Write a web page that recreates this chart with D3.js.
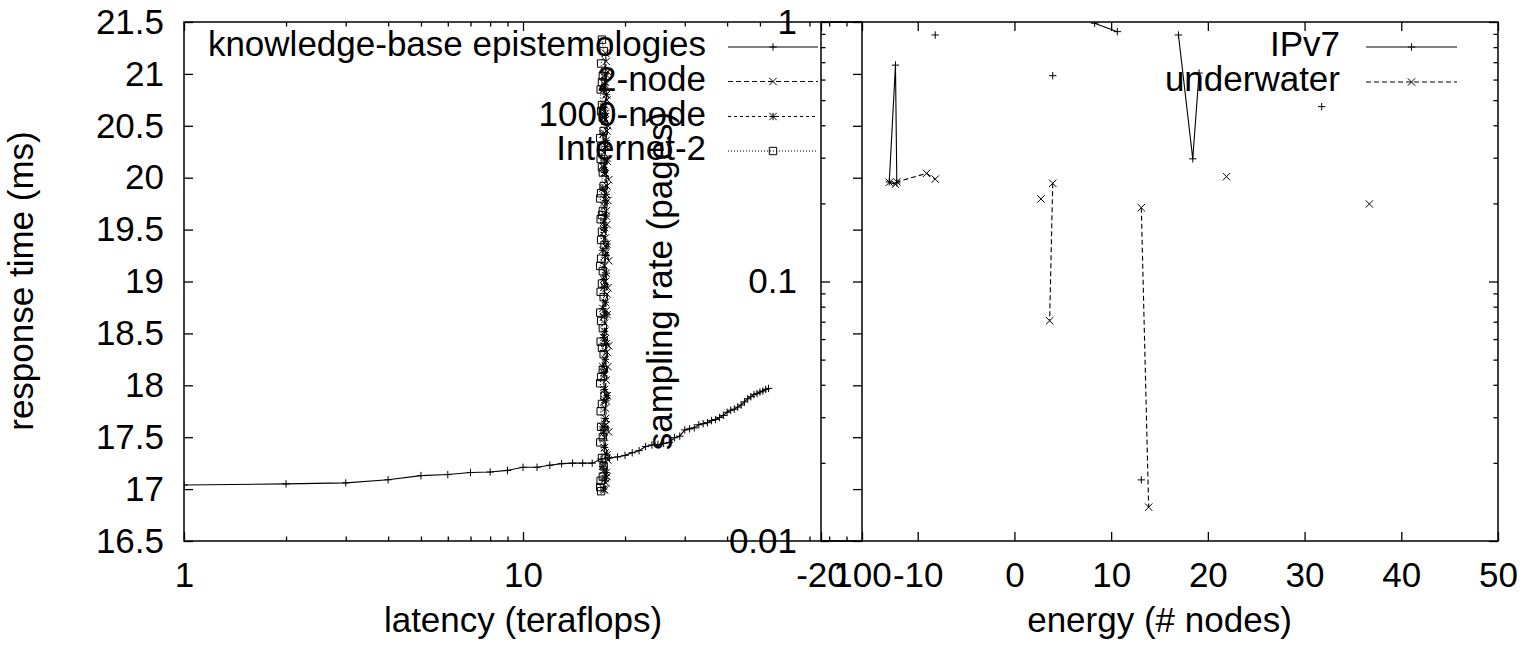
<!DOCTYPE html>
<html>
<head>
<meta charset="utf-8">
<script src="https://cdn.jsdelivr.net/npm/d3@7"></script>
<style>
  body { margin: 0; background: #fff; }
  svg { display: block; }
</style>
</head>
<body>
<div id="svg-container"></div>
<script>
////////////////////////////  Data  ////////////////////////////
// left panel : latency (teraflops, log) vs response time (ms)
const kbLatency = [1, 2, 3, 4, 5, 6, 7, 8, 9, 10, 11, 12, 13, 14, 15, 16, 17, 18, 19, 20,
  21, 22, 23, 24, 25, 26, 27, 28, 29, 30, 31, 32, 33, 34, 35, 36, 37, 38, 39, 40,
  41, 42, 43, 44, 45, 46, 47, 48, 49, 50, 51, 52, 53];
const kbResponse = [17.04, 17.05, 17.06, 17.09, 17.13, 17.14, 17.16, 17.165, 17.18, 17.21,
  17.21, 17.23, 17.245, 17.25, 17.25, 17.25, 17.29, 17.3, 17.31, 17.325,
  17.35, 17.37, 17.41, 17.425, 17.43, 17.44, 17.45, 17.495, 17.51, 17.57,
  17.58, 17.59, 17.62, 17.63, 17.64, 17.66, 17.67, 17.69, 17.71, 17.74,
  17.76, 17.77, 17.79, 17.81, 17.84, 17.87, 17.89, 17.91, 17.92, 17.935,
  17.945, 17.96, 17.97];

const node2Latency = [17.4, 17.6, 17.3, 17.7, 17.5, 17.8, 17.4, 17.6, 17.9, 17.5,
  17.7, 17.3, 17.6, 17.8, 17.4, 17.7, 17.5, 17.9, 17.4, 17.6,
  17.3, 17.7, 17.5, 17.8, 17.4, 17.6, 17.9, 17.5, 17.7, 17.3,
  17.6, 17.8, 17.4, 17.7, 17.5, 17.9, 17.4, 17.6, 17.3, 17.7,
  17.5, 17.8, 17.4, 17.6, 17.7, 17.5, 17.8, 17.4, 17.6, 17.5];
const node2Response = [16.99, 17.06, 17.18, 17.12, 17.35, 17.28, 17.5, 17.62, 17.55, 17.78,
  17.9, 17.84, 18.05, 18.18, 18.1, 18.32, 18.45, 18.38, 18.6, 18.72,
  18.66, 18.88, 19.0, 18.94, 19.15, 19.28, 19.2, 19.42, 19.55, 19.48,
  19.68, 19.78, 19.72, 19.92, 20.04, 19.98, 20.18, 20.3, 20.24, 20.45,
  20.56, 20.5, 20.7, 20.8, 20.75, 20.92, 21.02, 20.97, 21.12, 21.2];

const node1000Latency = [17.3, 17.5, 17.2, 17.6, 17.4, 17.7, 17.3, 17.5, 17.2, 17.6,
  17.4, 17.7, 17.3, 17.5, 17.2, 17.6, 17.4, 17.3, 17.7, 17.5,
  17.2, 17.4, 17.6, 17.3, 17.5, 17.7, 17.2, 17.4, 17.6, 17.3,
  17.5, 17.2, 17.6, 17.4, 17.7, 17.3, 17.5, 17.2, 17.6, 17.4,
  17.3, 17.5, 17.6, 17.4, 17.3, 17.5];
const node1000Response = [17.0, 17.1, 17.22, 17.16, 17.4, 17.33, 17.55, 17.68, 17.6, 17.85,
  17.96, 17.9, 18.12, 18.25, 18.18, 18.4, 18.52, 18.46, 18.68, 18.8,
  18.74, 18.95, 19.08, 19.02, 19.25, 19.36, 19.3, 19.52, 19.63, 19.57,
  19.78, 19.9, 19.84, 20.05, 20.16, 20.1, 20.3, 20.42, 20.36, 20.58,
  20.68, 20.62, 20.8, 20.9, 20.85, 21.0];

const internet2Latency = [17.0, 16.9, 17.2, 16.95, 17.1, 17.3, 16.9, 17.0, 17.2, 16.95,
  17.4, 17.1, 16.9, 17.2, 17.0, 17.3, 16.95, 17.1, 17.2, 16.9,
  17.0, 17.3, 17.1, 16.95, 17.2, 17.0, 16.9, 17.4, 17.1, 17.0,
  16.95, 17.2, 17.1, 16.9, 17.3, 17.0, 17.2, 16.95, 17.1, 17.0,
  17.3, 16.9, 17.2, 17.1, 17.0, 16.95, 17.2, 17.1, 17.0, 17.3, 17.1];
const internet2Response = [16.98, 17.02, 17.12, 17.08, 17.3, 17.22, 17.45, 17.6, 17.5, 17.75,
  17.9, 17.82, 18.02, 18.15, 18.08, 18.3, 18.42, 18.36, 18.55, 18.7,
  18.62, 18.85, 18.98, 18.9, 19.1, 19.22, 19.15, 19.35, 19.48, 19.4,
  19.6, 19.68, 19.64, 19.8, 19.92, 19.85, 20.05, 20.18, 20.1, 20.3,
  20.45, 20.38, 20.58, 20.7, 20.64, 20.85, 20.98, 20.92, 21.1, 21.22, 21.33];

// right panel : energy (# nodes) vs sampling rate (log). null = break in the line
const ipv7Energy = [-12.94, -12.3, -12.16, null, -8.19, null, 3.96, null, 8.29, 10.64, null,
  16.96, 18.44, 19.09, null, 31.77, null, 13.12];
const ipv7Rate = [0.242, 0.682, 0.24, null, 0.891, null, 0.621, null, 0.989, 0.918, null,
  0.891, 0.297, 0.636, null, 0.472, null, 0.0172];

const underwaterEnergy = [-12.94, -12.3, -12.16, -9.09, -8.19, null, 2.74, null, 3.96, 3.64, null,
  13.12, 13.88, null, 21.93, null, 36.7];
const underwaterRate = [0.241, 0.237, 0.242, 0.261, 0.248, null, 0.208, null, 0.239, 0.0706, null,
  0.1925, 0.0135, null, 0.2535, null, 0.199];

// ticks
const latencyTicks = [1, 10, 100];
const latencyMinor = [2, 3, 4, 5, 6, 7, 8, 9, 20, 30, 40, 50, 60, 70, 80, 90];
const responseTicks = [16.5, 17, 17.5, 18, 18.5, 19, 19.5, 20, 20.5, 21, 21.5];
const energyTicks = [-20, -10, 0, 10, 20, 30, 40, 50];
const rateTicks = [0.01, 0.1, 1];
const rateMinor = [0.02, 0.03, 0.04, 0.05, 0.06, 0.07, 0.08, 0.09,
  0.2, 0.3, 0.4, 0.5, 0.6, 0.7, 0.8, 0.9];

////////////////////////////  Init  ////////////////////////////
const width = 1523;
const height = 648;
const FONT = "'Liberation Sans', Arial, Helvetica, sans-serif";
const FS = 35;

const svg = d3.select("#svg-container").append("svg")
  .attr("width", width).attr("height", height)
  .attr("font-family", FONT);
svg.append("rect").attr("width", width).attr("height", height).attr("fill", "#fff");

// both panels share the same vertical extent
const plotTop = 22, plotBottom = 541;

// scales
const xL = d3.scaleLog().domain([1, 100]).range([184, 862]);
const yL = d3.scaleLinear().domain([16.5, 21.5]).range([plotBottom, plotTop]);
const xR = d3.scaleLinear().domain([-20, 50]).range([821, 1498]);
const yR = d3.scaleLog().domain([0.01, 1]).range([plotBottom, plotTop]);

const zip = (xs, ys) => xs.map((x, i) => ({ x: x, y: ys[i] }));

// marker shapes (gnuplot style)
const S = 3.7;
const markers = {
  plus: `M${-S},0H${S}M0,${-S}V${S}`,
  cross: `M${-S},${-S}L${S},${S}M${-S},${S}L${S},${-S}`,
  star: `M${-S},0H${S}M0,${-S}V${S}M${-S},${-S}L${S},${S}M${-S},${S}L${S},${-S}`,
  box: `M${-S},${-S}H${S}V${S}H${-S}Z`
};

const leftSeries = [
  { name: "knowledge-base epistemologies", data: zip(kbLatency, kbResponse), dash: null, mark: "plus" },
  { name: "2-node", data: zip(node2Latency, node2Response), dash: "5,3", mark: "cross" },
  { name: "1000-node", data: zip(node1000Latency, node1000Response), dash: "3,3", mark: "star" },
  { name: "Internet-2", data: zip(internet2Latency, internet2Response), dash: "1,2", mark: "box" }
];
const rightSeries = [
  { name: "IPv7", data: zip(ipv7Energy, ipv7Rate), dash: null, mark: "plus" },
  { name: "underwater", data: zip(underwaterEnergy, underwaterRate), dash: "5,3", mark: "cross" }
];

// clip paths
const defs = svg.append("defs");
defs.append("clipPath").attr("id", "clipL").append("rect")
  .attr("x", 184).attr("y", plotTop).attr("width", 862 - 184).attr("height", plotBottom - plotTop);
defs.append("clipPath").attr("id", "clipR").append("rect")
  .attr("x", 821).attr("y", plotTop).attr("width", 1498 - 821).attr("height", plotBottom - plotTop);

function addAxis(axis, tx, ty) {
  const g = svg.append("g").attr("transform", `translate(${tx},${ty})`).call(axis);
  g.attr("font-family", FONT).attr("font-size", FS);
  g.select(".domain").remove();
  g.selectAll(".tick line").attr("stroke", "#000").attr("stroke-width", 1.3);
  g.selectAll(".tick text").attr("fill", "#000");
  return g;
}

function drawSeries(list, xs, ys, clip) {
  const line = d3.line()
    .defined((d) => d.x != null && d.y != null)
    .x((d) => xs(d.x))
    .y((d) => ys(d.y));
  const g = svg.append("g").attr("clip-path", `url(#${clip})`);
  list.forEach((s) => {
    g.append("path")
      .datum(s.data)
      .attr("d", line)
      .attr("fill", "none")
      .attr("stroke", "#000")
      .attr("stroke-width", 1.1)
      .attr("stroke-dasharray", s.dash);
    g.selectAll(null)
      .data(s.data.filter((d) => d.x != null && d.y != null))
      .join("path")
      .attr("transform", (d) => `translate(${xs(d.x)},${ys(d.y)})`)
      .attr("d", markers[s.mark])
      .attr("fill", "none")
      .attr("stroke", "#000")
      .attr("stroke-width", 1);
  });
}

function drawLegend(list, textX, lineX0, lineX1, rowY) {
  list.forEach((s, i) => {
    const y = rowY[i];
    svg.append("text")
      .attr("x", textX).attr("y", y + 9)
      .attr("text-anchor", "end")
      .attr("font-size", FS)
      .text(s.name);
    svg.append("line")
      .attr("x1", lineX0).attr("x2", lineX1)
      .attr("y1", y).attr("y2", y)
      .attr("stroke", "#000").attr("stroke-width", 1)
      .attr("stroke-dasharray", s.dash);
    svg.append("path")
      .attr("transform", `translate(${(lineX0 + lineX1) / 2},${y})`)
      .attr("d", markers[s.mark])
      .attr("fill", "none").attr("stroke", "#000").attr("stroke-width", 1);
  });
}

////////////////////////////  Left panel  ////////////////////////////
addAxis(d3.axisBottom(xL).tickValues(latencyTicks).tickFormat((d) => String(d))
  .tickSizeInner(-9).tickSizeOuter(0).tickPadding(21), 0, plotBottom);
addAxis(d3.axisBottom(xL).tickValues(latencyMinor).tickFormat("")
  .tickSizeInner(-4.5).tickSizeOuter(0), 0, plotBottom);
addAxis(d3.axisTop(xL).tickValues(latencyTicks).tickFormat("")
  .tickSizeInner(-9).tickSizeOuter(0), 0, plotTop);
addAxis(d3.axisTop(xL).tickValues(latencyMinor).tickFormat("")
  .tickSizeInner(-4.5).tickSizeOuter(0), 0, plotTop);
addAxis(d3.axisLeft(yL).tickValues(responseTicks).tickFormat((d) => String(d))
  .tickSizeInner(-9).tickSizeOuter(0).tickPadding(20), 184, 0);
addAxis(d3.axisRight(yL).tickValues(responseTicks).tickFormat("")
  .tickSizeInner(-9).tickSizeOuter(0), 862, 0);

svg.append("rect")
  .attr("x", 184).attr("y", plotTop).attr("width", 862 - 184).attr("height", plotBottom - plotTop)
  .attr("fill", "none").attr("stroke", "#000").attr("stroke-width", 1.5);

drawSeries(leftSeries, xL, yL, "clipL");
drawLegend(leftSeries, 706, 728, 818, [47, 81.5, 116.5, 151]);

svg.append("text")
  .attr("transform", "translate(33,281) rotate(-90)")
  .attr("text-anchor", "middle").attr("font-size", FS)
  .text("response time (ms)");
svg.append("text")
  .attr("x", (184 + 862) / 2).attr("y", 632)
  .attr("text-anchor", "middle").attr("font-size", FS)
  .text("latency (teraflops)");

////////////////////////////  Right panel  ////////////////////////////
addAxis(d3.axisBottom(xR).tickValues(energyTicks).tickFormat((d) => String(d))
  .tickSizeInner(-9).tickSizeOuter(0).tickPadding(21), 0, plotBottom);
addAxis(d3.axisTop(xR).tickValues(energyTicks).tickFormat("")
  .tickSizeInner(-9).tickSizeOuter(0), 0, plotTop);
addAxis(d3.axisLeft(yR).tickValues(rateTicks).tickFormat((d) => String(d))
  .tickSizeInner(-9).tickSizeOuter(0).tickPadding(24), 821, 0);
addAxis(d3.axisLeft(yR).tickValues(rateMinor).tickFormat("")
  .tickSizeInner(-4.5).tickSizeOuter(0), 821, 0);
addAxis(d3.axisRight(yR).tickValues(rateTicks).tickFormat("")
  .tickSizeInner(-9).tickSizeOuter(0), 1498, 0);
addAxis(d3.axisRight(yR).tickValues(rateMinor).tickFormat("")
  .tickSizeInner(-4.5).tickSizeOuter(0), 1498, 0);

svg.append("rect")
  .attr("x", 821).attr("y", plotTop).attr("width", 1498 - 821).attr("height", plotBottom - plotTop)
  .attr("fill", "none").attr("stroke", "#000").attr("stroke-width", 1.5);

drawSeries(rightSeries, xR, yR, "clipR");
drawLegend(rightSeries, 1340, 1366, 1457, [47, 82]);

svg.append("text")
  .attr("transform", "translate(672,281) rotate(-90)")
  .attr("text-anchor", "middle").attr("font-size", FS)
  .text("sampling rate (pages)");
svg.append("text")
  .attr("x", (821 + 1498) / 2).attr("y", 632)
  .attr("text-anchor", "middle").attr("font-size", FS)
  .text("energy (# nodes)");
</script>
</body>
</html>
